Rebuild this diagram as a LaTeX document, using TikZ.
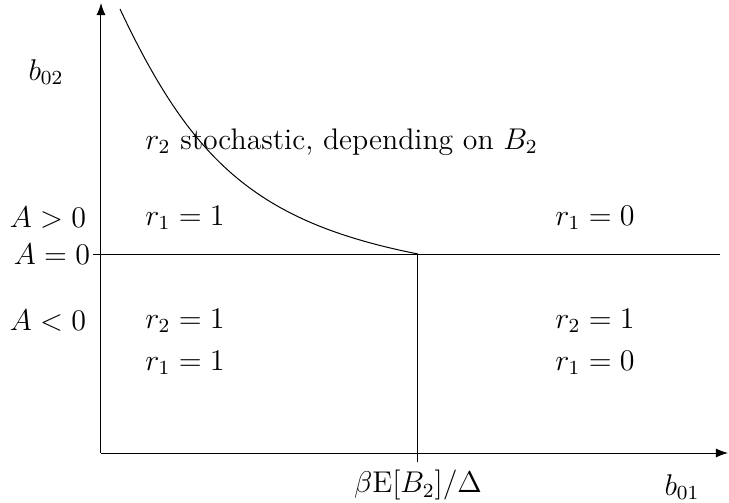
\documentclass[tikz,border=0pt]{standalone}
\usepackage{amsmath, amssymb}
\usepackage{tikz}
\usetikzlibrary{positioning, arrows.meta, calc}

\begin{document}
\begin{tikzpicture}[x=0.4pt, y=-0.4pt, >=Latex, font=\fontsize{11.9}{14}\selectfont]
  \useasboundingbox (0,0) rectangle (729,502);
  % Axes
  \coordinate (O) at (101,453);
  \coordinate (xend) at (728,453);
  \coordinate (yend) at (101,3);
  \draw[->] (O) -- (xend);
  \draw[->] (O) -- (yend);
  \node (b01) at (682,487) {$b_{01}$};
  \node (b02) at (46,72) {$b_{02}$};
  % Thresholds
  \coordinate (Aleft) at (93,254);
  \coordinate (Aright) at (720,254);
  \coordinate (K) at (418,254);
  \coordinate (Ktick) at (418,462);
  \draw (Aleft) -- (Aright);
  \draw (K) -- (Ktick);
  \node[below=2pt of Ktick, inner sep=1pt] (Klab) {$\beta\mathrm{E}[B_2]/\Delta$};
  % Boundary curve
  \coordinate (top) at (120,9);
  \draw (top) .. controls (192,162) and (257,222) .. (K);
  % A labels
  \node (Apos) at (48,218) {$A>0$};
  \node[left=0pt of Aleft, inner sep=1pt] (Azero) {$A=0$};
  \node (Aneg) at (48,321) {$A<0$};
  % Regions
  \node[right, inner sep=0pt] (stoch) at (145,142) {$r_2$ stochastic, depending on $B_2$};
  \foreach \nm/\x/\y/\txt in {
    ra/185/218/{$r_1=1$},
    rb/595/218/{$r_1=0$},
    rc/185/321/{$r_2=1$},
    rd/595/321/{$r_2=1$},
    re/185/363/{$r_1=1$},
    rf/595/363/{$r_1=0$}}{
    \node (\nm) at (\x,\y) {\txt};
  }
\end{tikzpicture}
\end{document}
